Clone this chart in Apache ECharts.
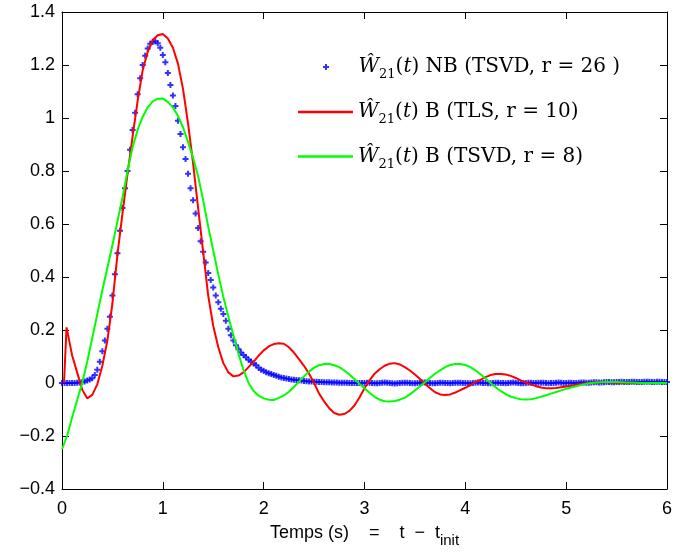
<!DOCTYPE html>
<html>
<head>
<meta charset="utf-8">
<script src="https://cdn.jsdelivr.net/npm/echarts@6/dist/echarts.min.js"></script>
<style>
html,body{margin:0;padding:0;background:#fff;}
#chart{width:675px;height:555px;}
</style>
</head>
<body>
<div id="chart"></div>
<script>
// Blue markers: sampled every 0.025 s from t = 0 to 6
const blueStep = 0.025;
const blueY = [
  0, 0, 0, 0, 0, 0, 0.001, 0.002, 0.004, 0.006,
  0.009, 0.013, 0.018, 0.03, 0.05, 0.08, 0.12, 0.16, 0.205, 0.25,
  0.33, 0.41, 0.49, 0.575, 0.66, 0.735, 0.80, 0.88, 0.955, 1.02,
  1.09, 1.15, 1.20, 1.235, 1.262, 1.28, 1.288, 1.29, 1.282, 1.265,
  1.238, 1.21, 1.17, 1.125, 1.085, 1.045, 0.99, 0.94, 0.89, 0.845,
  0.79, 0.735, 0.69, 0.64, 0.585, 0.535, 0.495, 0.455, 0.415, 0.389,
  0.36, 0.33, 0.305, 0.28, 0.26, 0.235, 0.205, 0.18, 0.16, 0.142,
  0.127, 0.115, 0.106, 0.097, 0.088, 0.081, 0.074, 0.067, 0.058, 0.05,
  0.046, 0.041, 0.037, 0.034, 0.03, 0.027, 0.024, 0.021, 0.019, 0.017,
  0.015, 0.013, 0.012, 0.011, 0.01, 0.009, 0.008, 0.007, 0.006, 0.006,
  0.005, 0.005, 0.004, 0.004, 0.003, 0.003, 0.003, 0.002, 0.002, 0.002,
  0.001, 0.001, 0.001, 0.001, 0, 0, 0, 0, 0, 0,
  0, 0.001, 0.001, 0, -0.001, -0.001, 0, 0.001, 0.002, 0.001,
  0, -0.001, -0.002, -0.001, 0, 0.001, 0.001, 0.001, 0, -0.001,
  -0.001, 0, 0.001, 0.002, 0.002, 0.001, 0, -0.001, -0.001, 0,
  0.001, 0.001, 0, 0, -0.001, 0, 0.001, 0.001, 0.001, 0,
  0, -0.001, -0.001, 0, 0.001, 0.002, 0.001, 0, 0, -0.001,
  -0.001, 0, 0.001, 0.001, 0, 0, -0.001, 0, 0.001, 0.002,
  0.001, 0, -0.001, -0.001, 0, 0.001, 0.001, 0, 0, 0.001,
  0.001, 0.001, 0, -0.001, 0, 0, 0.001, 0.002, 0.001, 0,
  0, 0.001, 0.001, 0, 0, 0.001, 0.002, 0.002, 0.001, 0.001,
  0.002, 0.003, 0.003, 0.002, 0.002, 0.003, 0.004, 0.004, 0.003, 0.003,
  0.004, 0.004, 0.005, 0.004, 0.004, 0.004, 0.005, 0.005, 0.004, 0.004,
  0.004, 0.005, 0.005, 0.005, 0.004, 0.004, 0.005, 0.005, 0.004, 0.004,
  0.004
];

// Red line (TLS, r = 10): initial spike, then every 0.05 s from t = 0.1
const redHeadT = [0.02, 0.045];
const redHeadY = [0, 0.21];
const redStart = 0.1;
const redStep = 0.05;
const redY = [
  0.105, 0.04, -0.025, -0.058, -0.045, -0.005, 0.065, 0.16, 0.30, 0.485,
  0.64, 0.79, 0.93, 1.065, 1.18, 1.25, 1.294, 1.312, 1.317, 1.30,
  1.265, 1.205, 1.11, 0.98, 0.83, 0.66, 0.495, 0.33, 0.215, 0.135,
  0.075, 0.04, 0.025, 0.028, 0.04, 0.06, 0.08, 0.103, 0.123, 0.138,
  0.147, 0.15, 0.148, 0.135, 0.115, 0.09, 0.065, 0.035, 0.0, -0.04,
  -0.07, -0.095, -0.113, -0.12, -0.117, -0.105, -0.085, -0.055, -0.02, 0.01,
  0.035, 0.052, 0.065, 0.073, 0.075, 0.07, 0.06, 0.047, 0.032, 0.015,
  -0.003, -0.02, -0.035, -0.043, -0.045, -0.043, -0.036, -0.027, -0.018, -0.008,
  0.003, 0.012, 0.022, 0.03, 0.034, 0.034, 0.032, 0.027, 0.019, 0.01,
  0.002, -0.005, -0.012, -0.017, -0.02, -0.02, -0.019, -0.016, -0.013, -0.01,
  -0.007, -0.004, -0.001, 0.001, 0.002, 0.003, 0.003, 0.002, 0.001, 0.001,
  0, 0, 0, 0, 0, 0, 0, 0, 0
];

// Green line (TSVD, r = 8): every 0.05 s from t = 0
const greenStep = 0.05;
const greenY = [
  -0.25, -0.2, -0.13, -0.065, 0.0, 0.08, 0.17, 0.26, 0.35, 0.435,
  0.52, 0.61, 0.70, 0.80, 0.89, 0.955, 1.005, 1.04, 1.063, 1.073,
  1.074, 1.06, 1.04, 1.008, 0.965, 0.91, 0.85, 0.78, 0.69, 0.59,
  0.5, 0.41, 0.325, 0.25, 0.18, 0.11, 0.05, 0.0, -0.03, -0.048,
  -0.058, -0.063, -0.064, -0.056, -0.047, -0.033, -0.015, 0.005, 0.025, 0.043,
  0.058, 0.067, 0.072, 0.072, 0.067, 0.06, 0.047, 0.032, 0.015, -0.003,
  -0.02, -0.037, -0.052, -0.063, -0.069, -0.07, -0.068, -0.063, -0.055, -0.043,
  -0.028, -0.012, 0.003, 0.02, 0.035, 0.048, 0.06, 0.068, 0.072, 0.072,
  0.068, 0.06, 0.048, 0.033, 0.017, 0.0, -0.016, -0.03, -0.042, -0.051,
  -0.057, -0.061, -0.062, -0.061, -0.057, -0.052, -0.046, -0.04, -0.034, -0.028,
  -0.022, -0.017, -0.012, -0.007, -0.003, 0.0, 0.002, 0.003, 0.004, 0.004,
  0.004, 0.003, 0.002, 0.002, 0.001, 0, 0, 0, 0, 0,
  0
];

const seriesNames = ['NB', 'TLS', 'TSVD8'];
const legendLabels = {
  NB:    '{w|Ŵ}{s|21}{r|(}{w|t}{r|) NB (TSVD, r = 26 )}',
  TLS:   '{w|Ŵ}{s|21}{r|(}{w|t}{r|) B (TLS, r = 10)}',
  TSVD8: '{w|Ŵ}{s|21}{r|(}{w|t}{r|) B (TSVD, r = 8)}'
};
const xAxisTitle = 'Temps (s)    =    t  −  t{s|init}';
const xTicks = {min: 0, max: 6, interval: 1};
const yTicks = {min: -0.4, max: 1.4, interval: 0.2};

const r3 = v => Math.round(v * 1000) / 1000;
const blueData = blueY.map((y, i) => [r3(i * blueStep), y]);
const redData = redHeadT.map((t, i) => [t, redHeadY[i]])
  .concat(redY.map((y, i) => [r3(redStart + i * redStep), y]));
const greenData = greenY.map((y, i) => [r3(i * greenStep), y]);

const serif = 'DejaVu Serif';
const sans = 'Liberation Sans';
const legendRich = {
  w: {fontFamily: serif, fontStyle: 'italic', fontSize: 20, color: '#000'},
  r: {fontFamily: serif, fontSize: 20, color: '#000'},
  s: {fontFamily: serif, fontSize: 13, color: '#000', padding: [16, 0, 0, 0]}
};
const plusPath = 'path://M1,0H2V1H3V2H2V3H1V2H0V1H1Z';

const axisLineStyle = {onZero: false, lineStyle: {color: '#000', width: 1}};
const tickStyle = {inside: true, length: 7, lineStyle: {color: '#000'}};
const chart = echarts.init(document.getElementById('chart'), null, {renderer: 'canvas'});
chart.setOption({
  animation: false,
  backgroundColor: '#fff',
  grid: {left: 62, right: 4, top: 12, bottom: 66, containLabel: false},
  legend: [
    {
      data: [seriesNames[0]], orient: 'vertical', left: 323, top: 57, padding: 0,
      itemWidth: 55, itemHeight: 6, selectedMode: false,
      formatter: n => legendLabels[n], textStyle: {rich: legendRich}
    },
    {
      data: [seriesNames[1], seriesNames[2]], orient: 'vertical', left: 298, top: 102, padding: 0,
      itemWidth: 55, itemHeight: 2.5, itemGap: 20, icon: 'rect', selectedMode: false,
      formatter: n => legendLabels[n], textStyle: {rich: legendRich}
    }
  ],
  xAxis: [
    {
      type: 'value', position: 'bottom', min: xTicks.min, max: xTicks.max, interval: xTicks.interval,
      axisLine: axisLineStyle, splitLine: {show: false}, axisTick: tickStyle,
      axisLabel: {fontFamily: sans, fontSize: 18, color: '#000', margin: 11},
      name: xAxisTitle, nameLocation: 'middle', nameGap: 30,
      nameTextStyle: {fontFamily: sans, fontSize: 18, color: '#000',
        rich: {s: {fontFamily: sans, fontSize: 15, color: '#000', padding: [14, 0, 0, 0]}}}
    },
    {
      type: 'value', position: 'top', min: xTicks.min, max: xTicks.max, interval: xTicks.interval,
      axisLine: axisLineStyle, splitLine: {show: false}, axisTick: tickStyle,
      axisLabel: {show: false}
    }
  ],
  yAxis: [
    {
      type: 'value', position: 'left', min: yTicks.min, max: yTicks.max, interval: yTicks.interval,
      axisLine: axisLineStyle, splitLine: {show: false}, axisTick: tickStyle,
      axisLabel: {fontFamily: sans, fontSize: 18, color: '#000', margin: 7,
        formatter: v => String(Math.round(v * 10) / 10).replace('-', '\u2212')}
    },
    {
      type: 'value', position: 'right', min: yTicks.min, max: yTicks.max, interval: yTicks.interval,
      axisLine: axisLineStyle, splitLine: {show: false}, axisTick: tickStyle,
      axisLabel: {show: false}
    }
  ],
  series: [
    {
      name: seriesNames[0], type: 'scatter', data: blueData,
      symbol: plusPath, symbolSize: 6, symbolKeepAspect: true,
      itemStyle: {color: '#0000ff'}, z: 2
    },
    {
      name: seriesNames[1], type: 'line', data: redData, symbol: 'none',
      lineStyle: {color: '#ff0000', width: 2}, itemStyle: {color: '#ff0000'}, z: 3
    },
    {
      name: seriesNames[2], type: 'line', data: greenData, symbol: 'none',
      lineStyle: {color: '#00ff00', width: 2}, itemStyle: {color: '#00ff00'}, z: 4
    }
  ]
});
</script>
</body>
</html>
